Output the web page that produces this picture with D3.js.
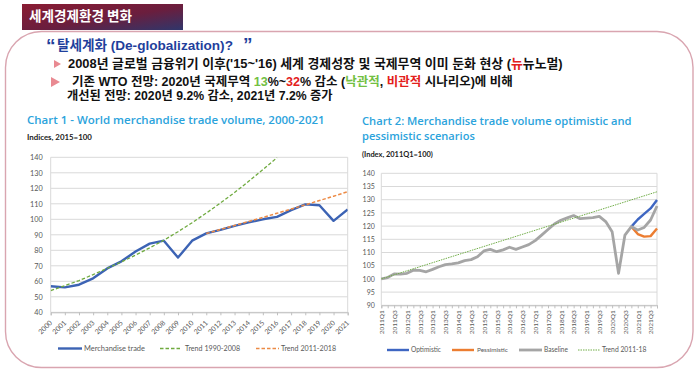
<!DOCTYPE html>
<html><head><meta charset="utf-8">
<script src="https://cdn.jsdelivr.net/npm/d3@7"></script>
<style>body{margin:0;background:#fff}svg{display:block}</style>
</head><body><svg id="c" width="699" height="373"></svg>
<script>
// ---------- DATA ----------
const years = ["2000","2001","2002","2003","2004","2005","2006","2007","2008","2009","2010","2011","2012","2013","2014","2015","2016","2017","2018","2019","2020","2021"];
const merchTrade = [56.8,56.1,57.8,61.9,68.3,72.9,79.2,84.3,86.2,75.3,86.2,90.9,93.2,95.8,98.0,100.0,101.6,105.9,109.6,109.1,99.0,106.3];
const trendYears9008 = ["2000","2001","2002","2003","2004","2005","2006","2007","2008","2009","2010","2011","2012","2013","2014","2015","2016"];
const trend9008 = [54.0,57.2,60.5,64.3,68.4,72.5,76.9,81.6,86.5,92.0,97.8,104.0,110.5,117.3,124.5,132.0,139.8];
const trendYears1118 = ["2011","2012","2013","2014","2015","2016","2017","2018","2019","2020","2021"];
const trend1118 = [90.8,93.4,96.0,98.6,101.2,103.9,106.6,109.3,112.1,114.9,117.8];
const yTicks1 = [40,50,60,70,80,90,100,110,120,130,140];

const quarters = ["2011Q1","2011Q2","2011Q3","2011Q4","2012Q1","2012Q2","2012Q3","2012Q4","2013Q1","2013Q2","2013Q3","2013Q4","2014Q1","2014Q2","2014Q3","2014Q4","2015Q1","2015Q2","2015Q3","2015Q4","2016Q1","2016Q2","2016Q3","2016Q4","2017Q1","2017Q2","2017Q3","2017Q4","2018Q1","2018Q2","2018Q3","2018Q4","2019Q1","2019Q2","2019Q3","2019Q4","2020Q1","2020Q2","2020Q3","2020Q4","2021Q1","2021Q2","2021Q3","2021Q4"];
const baseline = [100.0,100.5,101.9,101.8,102.1,103.3,103.2,102.7,103.6,104.6,105.4,105.7,106.1,106.9,107.3,108.4,110.6,111.2,110.3,111.0,112.0,111.2,112.1,113.0,114.5,116.6,118.7,120.8,122.2,123.1,124.0,122.8,123.0,123.2,123.7,121.7,117.9,102.1,116.6,119.8,118.5,119.5,122.3,127.6];
const scenQuarters = ["2020Q4","2021Q1","2021Q2","2021Q3","2021Q4"];
const optimistic = [119.8,122.5,124.6,126.7,129.9];
const pessimistic = [119.8,117.0,116.0,116.2,119.1];
const trendQuarters = ["2011Q1","2021Q4"];
const trend1118q = [100,133];
const yTicks2 = [90,95,100,105,110,115,120,125,130,135,140];

// ---------- HELPERS ----------
const svg = d3.select("#c");
const KR = "'Liberation Sans','Noto Sans CJK KR',sans-serif";
const CF = "Lato,'Open Sans',sans-serif";
function fit(t, w){
  const l = t.node().getComputedTextLength();
  const fs = parseFloat(t.attr("font-size"));
  t.attr("font-size", fs*w/l);
  return t;
}

const defs = svg.append("defs");
const gr = defs.append("linearGradient").attr("id","hdr").attr("x1","0").attr("y1","0").attr("x2","1").attr("y2","1");
gr.append("stop").attr("offset","0%").attr("stop-color","#8a1c33");
gr.append("stop").attr("offset","55%").attr("stop-color","#6a1e3e");
gr.append("stop").attr("offset","100%").attr("stop-color","#2f366b");

// outer border
svg.append("rect").attr("x",5.5).attr("y",31.5).attr("width",687.5).attr("height",336)
  .attr("rx",36).attr("fill","none").attr("stroke","#d9a5b0").attr("stroke-width",1.4);

// header
svg.append("rect").attr("x",22).attr("y",4).attr("width",161).attr("height",26).attr("fill","url(#hdr)");
fit(svg.append("text").attr("x",29).attr("y",21).attr("fill","#fff").attr("font-family","'Noto Sans CJK KR',sans-serif")
  .attr("font-weight","bold").attr("font-size",13).text("세계경제환경 변화"), 103);

// headline
const blue = "#1f3f9c";
svg.append("text").attr("x",46).attr("y",52).attr("fill",blue).attr("font-family",KR).attr("font-weight","bold").attr("font-size",19).text("“");
fit(svg.append("text").attr("x",57).attr("y",50).attr("fill",blue).attr("font-family",KR).attr("font-weight","bold").attr("font-size",16).text("탈세계화 (De-globalization)?"),176);
svg.append("text").attr("x",243).attr("y",51).attr("fill",blue).attr("font-family",KR).attr("font-weight","bold").attr("font-size",19).text("”");

// bullets
const tri = "#e98a92";
svg.append("path").attr("d","M54,60L54,68L61,64Z").attr("fill",tri);
svg.append("path").attr("d","M51,77L51,87L60,82Z").attr("fill",tri);

const l1 = svg.append("text").attr("x",68).attr("y",68).attr("font-family",KR).attr("font-weight","bold").attr("font-size",13).attr("fill","#111");
l1.append("tspan").text("2008년 글로벌 금융위기 이후('15~'16) 세계 경제성장 및 국제무역 이미 둔화 현상 (");
l1.append("tspan").attr("fill","#e3201b").text("뉴");
l1.append("tspan").text("뉴노멀)");
fit(l1, 495);

const l2 = svg.append("text").attr("x",72).attr("y",86).attr("font-family",KR).attr("font-weight","bold").attr("font-size",13).attr("fill","#111");
l2.append("tspan").text("기존 WTO 전망: 2020년 국제무역 ");
l2.append("tspan").attr("fill","#72c043").text("13");
l2.append("tspan").text("%~");
l2.append("tspan").attr("fill","#e3201b").text("32");
l2.append("tspan").text("% 감소 (");
l2.append("tspan").attr("fill","#72c043").text("낙관적");
l2.append("tspan").text(", ");
l2.append("tspan").attr("fill","#e3201b").text("비관적");
l2.append("tspan").text(" 시나리오)에 비해");
fit(l2, 441);

fit(svg.append("text").attr("x",67).attr("y",99.5).attr("font-family",KR).attr("font-weight","bold").attr("font-size",13).attr("fill","#111")
  .text("개선된 전망: 2020년 9.2% 감소, 2021년 7.2% 증가"), 266);

// ---------- CHART TITLES ----------
const tc = "#2ba3dc";
const TF = "'Open Sans',Lato,sans-serif";
fit(svg.append("text").attr("x",27).attr("y",124).attr("fill",tc).attr("font-family",TF).attr("font-weight",600).attr("font-size",12)
  .text("Chart 1 - World merchandise trade volume, 2000-2021"), 298);
fit(svg.append("text").attr("x",27).attr("y",139.5).attr("fill","#222").attr("font-family",CF).attr("font-weight","bold").attr("font-size",7)
  .text("Indices, 2015=100"), 65);
fit(svg.append("text").attr("x",362).attr("y",125).attr("fill",tc).attr("font-family",TF).attr("font-weight",600).attr("font-size",12)
  .text("Chart 2: Merchandise trade volume optimistic and"), 270);
fit(svg.append("text").attr("x",362).attr("y",139.5).attr("fill",tc).attr("font-family",TF).attr("font-weight",600).attr("font-size",12)
  .text("pessimistic scenarios"), 113);
fit(svg.append("text").attr("x",362).attr("y",157).attr("fill","#222").attr("font-family",CF).attr("font-weight","bold").attr("font-size",7)
  .text("(Index, 2011Q1=100)"), 71);

// ---------- CHART 1 ----------
(function(){
  const L=50.7, R=347.7, T=157.3, B=312.3;
  const x = d3.scalePoint().domain(years).range([L,R]).padding(0);
  const y = d3.scaleLinear().domain([40,140]).range([B,T]);
  const g = svg.append("g");
  g.selectAll("line.gr").data(yTicks1).join("line").attr("x1",L).attr("x2",R).attr("y1",d=>y(d)).attr("y2",d=>y(d))
    .attr("stroke","#d9d9d9").attr("stroke-width",1);
  g.append("line").attr("x1",L).attr("x2",L).attr("y1",T).attr("y2",B).attr("stroke","#d9d9d9");
  g.append("line").attr("x1",R).attr("x2",R).attr("y1",T).attr("y2",B).attr("stroke","#d9d9d9");
  const ya = g.append("g").attr("transform",`translate(${L},0)`).call(d3.axisLeft(y).tickValues(yTicks1).tickSize(0).tickPadding(8));
  ya.select(".domain").remove();
  ya.selectAll("text").attr("font-family",CF).attr("font-size",7.3).attr("fill","#595959");
  const xa = g.append("g").attr("transform",`translate(0,${B})`).call(d3.axisBottom(x).tickSize(3));
  xa.select(".domain").attr("stroke","#bfbfbf");
  xa.selectAll(".tick line").attr("stroke","#bfbfbf");
  xa.selectAll("text").attr("y",0).attr("dy",0).attr("text-anchor","end").attr("transform","translate(1.5,11) rotate(-45)")
    .attr("font-family",CF).attr("font-size",7).attr("fill","#595959");

  defs.append("clipPath").attr("id","c1").append("rect").attr("x",L).attr("y",T).attr("width",R-L).attr("height",B-T);
  const line = d3.line().x(d=>x(d[0])).y(d=>y(d[1]));
  const pg = g.append("g").attr("clip-path","url(#c1)");
  pg.append("path").attr("d",line(d3.zip(years,merchTrade))).attr("fill","none").attr("stroke","#3c63b4").attr("stroke-width",2.4).attr("stroke-linejoin","round");
  pg.append("path").attr("d",line(d3.zip(trendYears9008,trend9008))).attr("fill","none").attr("stroke","#6faa3f").attr("stroke-width",1.3).attr("stroke-dasharray","3.5,2");
  pg.append("path").attr("d",line(d3.zip(trendYears1118,trend1118))).attr("fill","none").attr("stroke","#ec8a45").attr("stroke-width",1.5).attr("stroke-dasharray","3.5,2");

  const ly = 348.5;
  const lg = g.append("g");
  lg.append("line").attr("x1",58).attr("x2",82).attr("y1",ly).attr("y2",ly).attr("stroke","#3c63b4").attr("stroke-width",2.4);
  fit(lg.append("text").attr("x",84).attr("y",ly+2.5).attr("font-family",CF).attr("font-size",7.3).attr("fill","#595959").text("Merchandise trade"),61);
  lg.append("line").attr("x1",160).attr("x2",182).attr("y1",ly).attr("y2",ly).attr("stroke","#6faa3f").attr("stroke-width",1.3).attr("stroke-dasharray","3.5,2");
  fit(lg.append("text").attr("x",185).attr("y",ly+2.5).attr("font-family",CF).attr("font-size",7.3).attr("fill","#595959").text("Trend 1990-2008"),55);
  lg.append("line").attr("x1",256).attr("x2",279).attr("y1",ly).attr("y2",ly).attr("stroke","#ec8a45").attr("stroke-width",1.5).attr("stroke-dasharray","3.5,2");
  fit(lg.append("text").attr("x",281).attr("y",ly+2.5).attr("font-family",CF).attr("font-size",7.3).attr("fill","#595959").text("Trend 2011-2018"),55);
})();

// ---------- CHART 2 ----------
(function(){
  const L=381.3, R=657, T=173.3, B=305.3;
  const x = d3.scalePoint().domain(quarters).range([L,R]).padding(0);
  const y = d3.scaleLinear().domain([90,140]).range([B,T]);
  const g = svg.append("g");
  g.selectAll("line.gr").data(yTicks2).join("line").attr("x1",L).attr("x2",R).attr("y1",d=>y(d)).attr("y2",d=>y(d))
    .attr("stroke","#d9d9d9").attr("stroke-width",1);
  g.append("line").attr("x1",L).attr("x2",L).attr("y1",T).attr("y2",B).attr("stroke","#d9d9d9");
  g.append("line").attr("x1",R).attr("x2",R).attr("y1",T).attr("y2",B).attr("stroke","#d9d9d9");
  const ya = g.append("g").attr("transform",`translate(${L},0)`).call(d3.axisLeft(y).tickValues(yTicks2).tickSize(0).tickPadding(6.5));
  ya.select(".domain").remove();
  ya.selectAll("text").attr("font-family",CF).attr("font-size",7).attr("fill","#595959");
  const xa = g.append("g").attr("transform",`translate(0,${B})`)
    .call(d3.axisBottom(x).tickSize(3).tickFormat(d=>(d.endsWith("Q1")||d.endsWith("Q3"))?d:""));
  xa.select(".domain").attr("stroke","#bfbfbf");
  xa.selectAll(".tick line").attr("stroke","#bfbfbf");
  xa.selectAll("text").attr("y",0).attr("dy",0).attr("text-anchor","end").attr("transform","translate(2.3,5) rotate(-90)")
    .attr("font-family",CF).attr("font-size",6.5).attr("fill","#595959");

  const line = d3.line().x(d=>x(d[0])).y(d=>y(d[1]));
  g.append("path").attr("d",line(d3.zip(scenQuarters,optimistic))).attr("fill","none").attr("stroke","#3e66c2").attr("stroke-width",2.4).attr("stroke-linejoin","round");
  g.append("path").attr("d",line(d3.zip(scenQuarters,pessimistic))).attr("fill","none").attr("stroke","#ec7d31").attr("stroke-width",2.4).attr("stroke-linejoin","round");
  g.append("path").attr("d",line(d3.zip(quarters,baseline))).attr("fill","none").attr("stroke","#a5a5a5").attr("stroke-width",2.8).attr("stroke-linejoin","round");
  g.append("path").attr("d",line(d3.zip(trendQuarters,trend1118q))).attr("fill","none").attr("stroke","#70ad47").attr("stroke-width",1).attr("stroke-dasharray","1.5,1");

  const ly = 350;
  const lg = g.append("g");
  lg.append("line").attr("x1",387).attr("x2",409).attr("y1",ly).attr("y2",ly).attr("stroke","#3e66c2").attr("stroke-width",2.4);
  fit(lg.append("text").attr("x",411).attr("y",ly+2.4).attr("font-family",CF).attr("font-size",7).attr("fill","#595959").text("Optimistic"),30);
  lg.append("line").attr("x1",452).attr("x2",474).attr("y1",ly).attr("y2",ly).attr("stroke","#ec7d31").attr("stroke-width",2.4);
  fit(lg.append("text").attr("x",477).attr("y",ly+2.4).attr("font-family",CF).attr("font-size",7).attr("fill","#595959").text("Pessimistic"),31);
  lg.append("line").attr("x1",519).attr("x2",542).attr("y1",ly).attr("y2",ly).attr("stroke","#a5a5a5").attr("stroke-width",2.8);
  fit(lg.append("text").attr("x",544).attr("y",ly+2.4).attr("font-family",CF).attr("font-size",7).attr("fill","#595959").text("Baseline"),24);
  lg.append("line").attr("x1",578).attr("x2",600).attr("y1",ly).attr("y2",ly).attr("stroke","#70ad47").attr("stroke-width",1).attr("stroke-dasharray","1.5,1");
  fit(lg.append("text").attr("x",602).attr("y",ly+2.4).attr("font-family",CF).attr("font-size",7).attr("fill","#595959").text("Trend 2011-18"),44.5);
})();
</script></body></html>
